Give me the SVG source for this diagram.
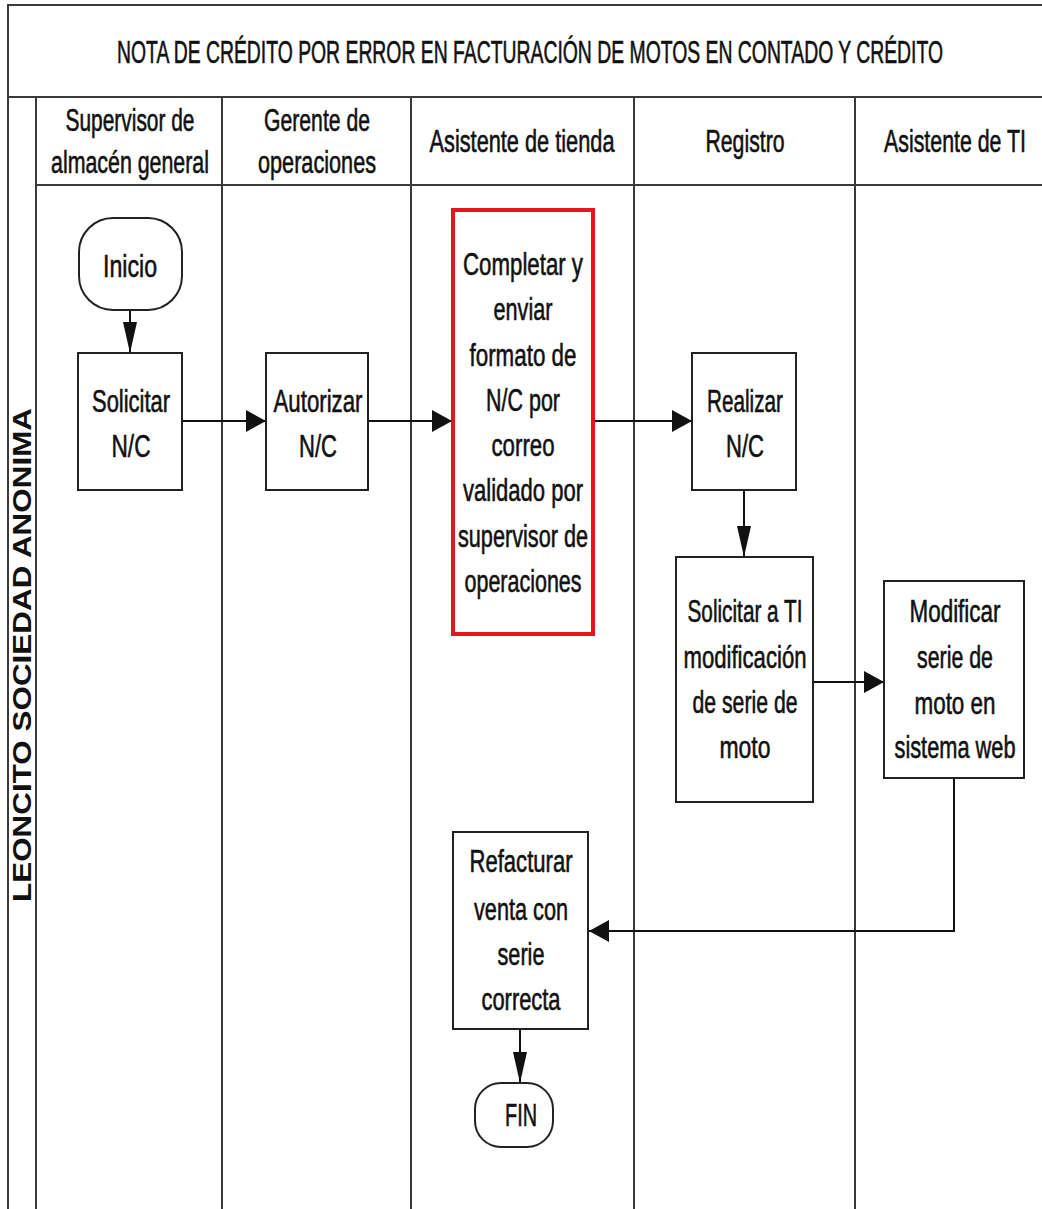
<svg xmlns="http://www.w3.org/2000/svg" width="1042" height="1209" viewBox="0 0 1042 1209">
  <style>
    .frame { fill: none; stroke: #3a3a3a; stroke-width: 2; }
    .box { fill: #ffffff; stroke: #222222; stroke-width: 2; }
    .hl { fill: #ffffff; stroke: #e8141c; stroke-width: 4; }
    .conn { fill: none; stroke: #111111; stroke-width: 2; }
    .t { font-family: "Liberation Sans", Arial, sans-serif; font-size: 32px; fill: #111111; stroke: #111111; stroke-width: 0.6; text-anchor: middle; }
    .lane { font-family: "Liberation Sans", Arial, sans-serif; font-size: 26px; font-weight: bold; fill: #111111; text-anchor: middle; }
  </style>
  <defs>
    <marker id="ah" markerUnits="userSpaceOnUse" markerWidth="20" markerHeight="22" refX="20" refY="11" orient="auto">
      <path d="M0,0 L20,11 L0,22 z" fill="#111111"/>
    </marker>
    <marker id="av" markerUnits="userSpaceOnUse" markerWidth="31" markerHeight="14" refX="31" refY="7" orient="auto">
      <path d="M0,0 L31,7 L0,14 z" fill="#111111"/>
    </marker>
  </defs>

  <rect width="1042" height="1209" fill="#ffffff"/>

  <!-- pool frame, title bar and swimlanes -->
  <g id="pool">
    <path class="frame" d="M8,1209 V5 H1042 M8,97 H1042 M36,185 H1042"/>
    <path class="frame" d="M36,97 V1209 M222,97 V1209 M411,97 V1209 M634,97 V1209 M855,97 V1209"/>
    <text class="t" x="530" y="63" textLength="826" lengthAdjust="spacingAndGlyphs">NOTA DE CRÉDITO POR ERROR EN FACTURACIÓN DE MOTOS EN CONTADO Y CRÉDITO</text>
    <text class="lane" transform="translate(31 655) rotate(-90)" x="0" y="0" textLength="494" lengthAdjust="spacingAndGlyphs">LEONCITO SOCIEDAD ANONIMA</text>
  </g>

  <g id="lane-headers">
    <text class="t" x="130" y="131" textLength="129" lengthAdjust="spacingAndGlyphs">Supervisor de</text>
    <text class="t" x="130" y="173" textLength="158" lengthAdjust="spacingAndGlyphs">almacén general</text>
    <text class="t" x="317" y="131" textLength="106" lengthAdjust="spacingAndGlyphs">Gerente de</text>
    <text class="t" x="317" y="173" textLength="118" lengthAdjust="spacingAndGlyphs">operaciones</text>
    <text class="t" x="522" y="152" textLength="185" lengthAdjust="spacingAndGlyphs">Asistente de tienda</text>
    <text class="t" x="745" y="152" textLength="79" lengthAdjust="spacingAndGlyphs">Registro</text>
    <text class="t" x="955" y="152" textLength="142" lengthAdjust="spacingAndGlyphs">Asistente de TI</text>
  </g>

  <!-- connectors -->
  <g id="connectors">
    <path class="conn" d="M130,310 V353" marker-end="url(#av)"/>
    <path class="conn" d="M182,421 H266" marker-end="url(#ah)"/>
    <path class="conn" d="M368,421 H452" marker-end="url(#ah)"/>
    <path class="conn" d="M593,421 H692" marker-end="url(#ah)"/>
    <path class="conn" d="M744,490 V557" marker-end="url(#av)"/>
    <path class="conn" d="M813,682 H884" marker-end="url(#ah)"/>
    <path class="conn" d="M954,778 V931 H589" marker-end="url(#ah)"/>
    <path class="conn" d="M520,1029 V1083" marker-end="url(#av)"/>
  </g>

  <g id="inicio">
    <rect class="box" x="79" y="218" width="103" height="92" rx="34" ry="34"/>
    <text class="t" x="130" y="277" textLength="54" lengthAdjust="spacingAndGlyphs">Inicio</text>
  </g>

  <g id="solicitar-nc">
    <rect class="box" x="78" y="353" width="104" height="137"/>
    <text class="t" x="131" y="412" textLength="78" lengthAdjust="spacingAndGlyphs">Solicitar</text>
    <text class="t" x="131" y="457" textLength="39" lengthAdjust="spacingAndGlyphs">N/C</text>
  </g>

  <g id="autorizar-nc">
    <rect class="box" x="266" y="353" width="102" height="137"/>
    <text class="t" x="318" y="412" textLength="89" lengthAdjust="spacingAndGlyphs">Autorizar</text>
    <text class="t" x="318" y="457" textLength="38" lengthAdjust="spacingAndGlyphs">N/C</text>
  </g>

  <g id="completar-enviar">
    <rect class="hl" x="453" y="210" width="140" height="424"/>
    <text class="t" x="523" y="275" textLength="120" lengthAdjust="spacingAndGlyphs">Completar y</text>
    <text class="t" x="523" y="320" textLength="59" lengthAdjust="spacingAndGlyphs">enviar</text>
    <text class="t" x="523" y="366" textLength="107" lengthAdjust="spacingAndGlyphs">formato de</text>
    <text class="t" x="523" y="411" textLength="74" lengthAdjust="spacingAndGlyphs">N/C por</text>
    <text class="t" x="523" y="456" textLength="63" lengthAdjust="spacingAndGlyphs">correo</text>
    <text class="t" x="523" y="501" textLength="120" lengthAdjust="spacingAndGlyphs">validado por</text>
    <text class="t" x="523" y="547" textLength="130" lengthAdjust="spacingAndGlyphs">supervisor de</text>
    <text class="t" x="523" y="592" textLength="117" lengthAdjust="spacingAndGlyphs">operaciones</text>
  </g>

  <g id="realizar-nc">
    <rect class="box" x="692" y="353" width="104" height="137"/>
    <text class="t" x="745" y="412" textLength="76" lengthAdjust="spacingAndGlyphs">Realizar</text>
    <text class="t" x="745" y="457" textLength="38" lengthAdjust="spacingAndGlyphs">N/C</text>
  </g>

  <g id="solicitar-ti">
    <rect class="box" x="676" y="557" width="137" height="245"/>
    <text class="t" x="745" y="622" textLength="115" lengthAdjust="spacingAndGlyphs">Solicitar a TI</text>
    <text class="t" x="745" y="668" textLength="123" lengthAdjust="spacingAndGlyphs">modificación</text>
    <text class="t" x="745" y="713" textLength="105" lengthAdjust="spacingAndGlyphs">de serie de</text>
    <text class="t" x="745" y="758" textLength="51" lengthAdjust="spacingAndGlyphs">moto</text>
  </g>

  <g id="modificar-serie">
    <rect class="box" x="884" y="581" width="140" height="197"/>
    <text class="t" x="955" y="622" textLength="91" lengthAdjust="spacingAndGlyphs">Modificar</text>
    <text class="t" x="955" y="668" textLength="76" lengthAdjust="spacingAndGlyphs">serie de</text>
    <text class="t" x="955" y="714" textLength="81" lengthAdjust="spacingAndGlyphs">moto en</text>
    <text class="t" x="955" y="758" textLength="121" lengthAdjust="spacingAndGlyphs">sistema web</text>
  </g>

  <g id="refacturar">
    <rect class="box" x="453" y="832" width="135" height="197"/>
    <text class="t" x="521" y="872" textLength="103" lengthAdjust="spacingAndGlyphs">Refacturar</text>
    <text class="t" x="521" y="920" textLength="94" lengthAdjust="spacingAndGlyphs">venta con</text>
    <text class="t" x="521" y="965" textLength="47" lengthAdjust="spacingAndGlyphs">serie</text>
    <text class="t" x="521" y="1010" textLength="79" lengthAdjust="spacingAndGlyphs">correcta</text>
  </g>

  <g id="fin">
    <rect class="box" x="475" y="1083" width="78" height="64" rx="26" ry="26"/>
    <text class="t" x="521" y="1126" textLength="32" lengthAdjust="spacingAndGlyphs">FIN</text>
  </g>
</svg>
